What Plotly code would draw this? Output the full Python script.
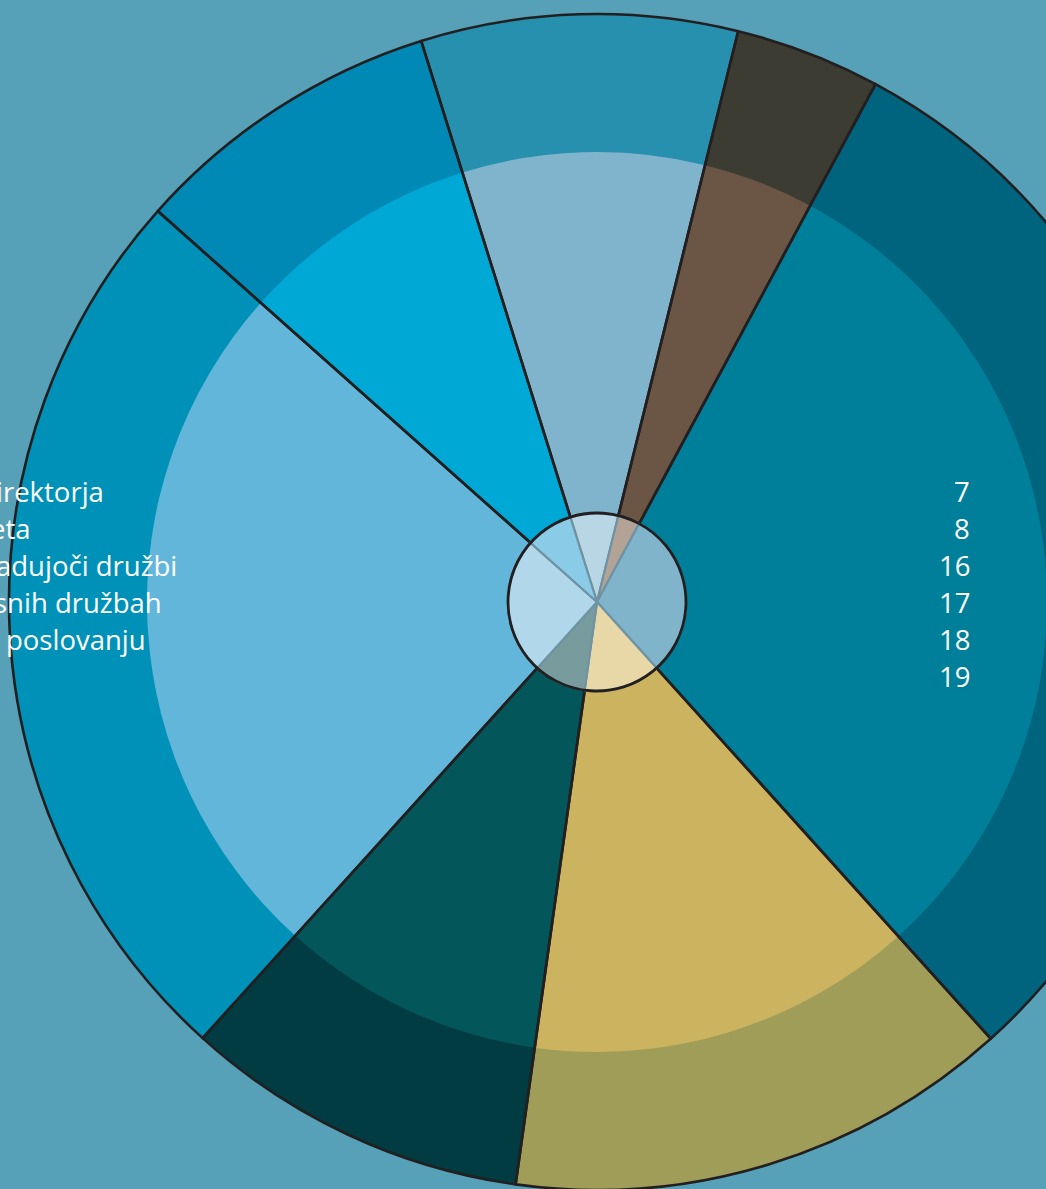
import plotly.graph_objects as go

# ---- data ----
slice_shares = [8.7, 4.0, 30.5, 13.9, 9.5, 24.9, 8.6]
outer_colors = ["#2790AE", "#3D3C33", "#00647E", "#A09D58", "#003C42", "#0091B8", "#0089B4"]
inner_colors = ["#80B4CC", "#6B5645", "#007F9B", "#CCB35F", "#03565A", "#62B6DA", "#00A8D6"]
center_colors = ["#B8D6E4", "#B3A397", "#80B4CB", "#E8D8A8", "#789C9E", "#B0D8EA", "#8ACBE7"]
toc_titles = ["irektorja", "eta", "adujoči družbi", "snih družbah", "poslovanju"]
toc_title_right = [105.5, 32.5, 178.5, 163.5, 148]
toc_pages = ["7", "8", "16", "17", "18", "19"]

# ---- geometry (pixels) ----
W, H = 1190, 1200
CX, CY = 597, 602
R_OUT, R_IN, R_CEN = 588, 450, 89
START_ANGLE = 342.6
LINE_DARK = "#231F20"
BG = "#56A1B7"


def dom(r):
    return dict(x=[(CX - r) / W, (CX + r) / W], y=[1 - (CY + r) / H, 1 - (CY - r) / H])


def pie(values, colors, r, lw=0, lc=LINE_DARK):
    return go.Pie(
        values=values,
        marker=dict(colors=colors, line=dict(color=lc, width=lw)),
        domain=dom(r),
        sort=False,
        direction="clockwise",
        rotation=START_ANGLE,
        textinfo="none",
        hoverinfo="skip",
        showlegend=False,
    )


transparent = ["rgba(0,0,0,0)"] * len(slice_shares)

fig = go.Figure()
fig.add_trace(pie(slice_shares, outer_colors, R_OUT))
fig.add_trace(pie(slice_shares, inner_colors, R_IN))
fig.add_trace(pie(slice_shares, transparent, R_OUT, lw=2.6))
fig.add_trace(pie(slice_shares, center_colors, R_CEN, lw=2.2, lc="#6F93A2"))
fig.add_trace(pie([1], ["rgba(0,0,0,0)"], R_CEN, lw=2.8))

FONT = dict(family="Open Sans", size=27.5, color="white")
LINE_Y0, LINE_STEP = 491.4, 37.1

annotations = []
for i, (t, xr) in enumerate(zip(toc_titles, toc_title_right)):
    annotations.append(dict(
        text=t, x=xr / W, y=1 - (LINE_Y0 + i * LINE_STEP) / H,
        xref="paper", yref="paper", xanchor="right", yanchor="middle",
        showarrow=False, font=FONT,
    ))
for i, p in enumerate(toc_pages):
    annotations.append(dict(
        text=p, x=972 / W, y=1 - (LINE_Y0 + i * LINE_STEP) / H,
        xref="paper", yref="paper", xanchor="right", yanchor="middle",
        showarrow=False, font=FONT,
    ))

fig.update_layout(
    width=W, height=H,
    margin=dict(l=0, r=0, t=0, b=0),
    paper_bgcolor=BG, plot_bgcolor=BG,
    annotations=annotations,
    showlegend=False,
)

fig.write_html(
    "out.html",
    post_script="document.body.style.margin='0';document.body.style.overflow='hidden';",
)
